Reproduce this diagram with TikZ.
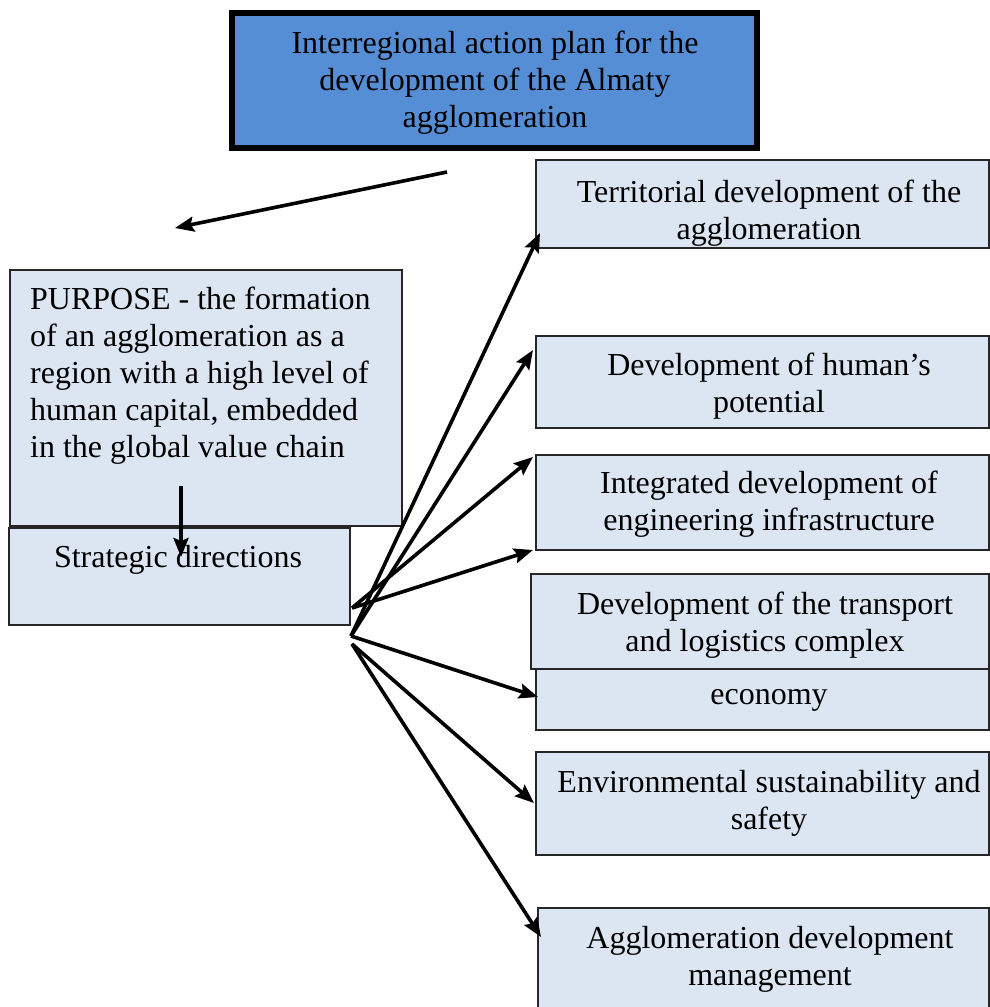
\documentclass[tikz,border=0pt]{standalone}
\usepackage{fontspec}
\setmainfont{Liberation Serif}
\usetikzlibrary{arrows.meta,calc}
\definecolor{topblue}{HTML}{558ED5}
\definecolor{lightbox}{HTML}{DCE6F2}
\tikzset{
  box/.style={draw=black!85, line width=2pt, fill=lightbox, anchor=north west, inner sep=0pt, outer sep=0pt},
  txt/.style={align=center, inner sep=0pt, font=\fontsize{32}{37}\selectfont},
  arr/.style={line width=3.6pt, -{Stealth[length=19pt,width=15pt,inset=3pt]}}
}
\begin{document}
\begin{tikzpicture}[x=1pt,y=-1pt]
\useasboundingbox (0,0) rectangle (990,1007);
% top box
\node[box, draw=black, line width=6pt, fill=topblue, minimum width=525pt, minimum height=135pt] (top) at (232,13) {};
\node[txt] (toptxt) at (495,83) {Interregional action plan for the\\development of the Almaty\\agglomeration};
% purpose
\node[box, minimum width=392pt, minimum height=256pt] (purp) at (10,270) {};
\node[txt, align=left, anchor=west] (purptxt) at (30,376) {PURPOSE - the formation\\of an agglomeration as a\\region with a high level of\\human capital, embedded\\in the global value chain};
% strategic
\node[box, minimum width=341pt, minimum height=97pt] (strat) at (9,528) {};
\node[txt] (strattxt) at (178,560) {Strategic directions};
% right boxes
\node[box, minimum width=453pt, minimum height=88pt] (terr) at (536,160) {};
\begin{scope}
\clip (537,161) rectangle (989,247);
\node[txt] (terrtxt) at (769,213) {Territorial development of the\\agglomeration};
\end{scope}
\node[box, minimum width=453pt, minimum height=92pt] (human) at (536,336) {};
\node[txt] (humantxt) at (769,386.5) {Development of human’s\\potential};
\node[box, minimum width=453pt, minimum height=95pt] (integ) at (536,455) {};
\node[txt] (integtxt) at (769,504.5) {Integrated development of\\engineering infrastructure};
\node[box, minimum width=453pt, minimum height=74pt] (econ) at (536,656) {};
\node[txt] (econtxt) at (769,700) {economy};
\node[box, minimum width=458pt, minimum height=95pt] (trans) at (531,574) {};
\node[txt] (transtxt) at (765,625) {Development of the transport\\and logistics complex};
\node[box, minimum width=453pt, minimum height=103pt] (env) at (536,752) {};
\node[txt] (envtxt) at (769,803) {Environmental sustainability and\\safety};
\node[box, minimum width=451pt, minimum height=110pt] (mgmt) at (538,908) {};
\node[txt] (mgmttxt) at (770,959.5) {Agglomeration development\\management};
% connector coordinates
\coordinate (tstart) at (447,172);
\coordinate (tend) at (175,228);
\coordinate (dstart) at (181,486);
\coordinate (dend) at (181,557);
\coordinate (apex) at (351,636);
\coordinate (upper) at (352,608);
\coordinate (lower) at (352,644);
% arrows
\draw[arr] (tstart) -- (tend);
\draw[arr] (dstart) -- (dend);
\draw[arr] (apex) -- ([shift={(4,-15)}]terr.south west);
\draw[arr] (apex) -- ([shift={(-3,14)}]human.north west);
\draw[arr] (upper) -- ([shift={(-3,2)}]integ.north west);
\draw[arr] (upper) -- ([shift={(-3,0)}]integ.south west);
\draw[arr] (apex) -- ([shift={(2,41)}]econ.north west);
\draw[arr] (lower) -- ([shift={(-2,51)}]env.north west);
\draw[arr] (lower) -- ([shift={(3,29)}]mgmt.north west);
\end{tikzpicture}
\end{document}
